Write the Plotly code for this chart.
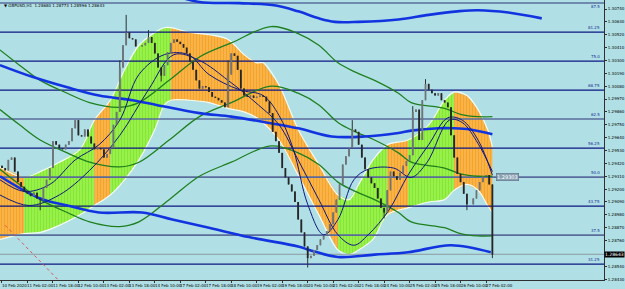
import plotly.graph_objects as go

BG = "#b0e0e6"

# ---------------- x axis (hourly bars, label every 16 bars) ----------------
tick_bars = [0, 16, 32, 48, 64, 80, 96, 112, 128, 144, 160, 176, 192, 208, 224, 240, 256, 272, 288, 304]
tick_text = ["10 Feb 2020", "11 Feb 02:00", "11 Feb 18:00", "12 Feb 10:00", "13 Feb 02:00",
             "13 Feb 18:00", "14 Feb 10:00", "17 Feb 02:00", "17 Feb 18:00", "18 Feb 10:00",
             "19 Feb 02:00", "19 Feb 18:00", "20 Feb 10:00", "21 Feb 02:00", "21 Feb 18:00",
             "24 Feb 10:00", "25 Feb 02:00", "25 Feb 18:00", "26 Feb 10:00", "27 Feb 02:00"]

# ---------------- price (one candle per 2 hourly bars) ----------------
close = [1.2938, 1.2936, 1.2945, 1.2947, 1.2935, 1.2926, 1.2922, 1.2918, 1.2916, 1.2914,
         1.2917, 1.2912, 1.2911, 1.2921, 1.2928, 1.2938, 1.2961, 1.2958, 1.2955, 1.2954,
         1.2958, 1.2961, 1.2972, 1.2979, 1.2966, 1.2965, 1.2971, 1.2965, 1.2959, 1.2954,
         1.2955, 1.2954, 1.2947, 1.2950, 1.2955, 1.2975, 1.2986, 1.3024, 1.3043, 1.3054,
         1.3049, 1.3048, 1.3042, 1.3042, 1.3043, 1.3045, 1.3050, 1.3045, 1.3036, 1.3024,
         1.3017, 1.3026, 1.3037, 1.3045, 1.3048, 1.3046, 1.3044, 1.3041, 1.3036, 1.3029,
         1.3022, 1.3013, 1.3006, 1.3008, 1.3007, 1.3003, 1.2999, 1.2998, 1.2996, 1.2994,
         1.2990, 1.3018, 1.3036, 1.3034, 1.3022, 1.3006, 1.3000, 1.2999, 1.3000, 1.2998,
         1.2999, 1.3000, 1.2999, 1.2995, 1.2985, 1.2969, 1.2961, 1.2951, 1.2938, 1.2930,
         1.2924, 1.2918, 1.2909, 1.2894, 1.2883, 1.2871, 1.2861, 1.2863, 1.2868, 1.2872,
         1.2877, 1.2880, 1.2884, 1.2890, 1.2900, 1.2911, 1.2924, 1.2941, 1.2948, 1.2955,
         1.2971, 1.2969, 1.2958, 1.2947, 1.2937, 1.2930, 1.2925, 1.2921, 1.2912, 1.2904,
         1.2900, 1.2919, 1.2935, 1.2931, 1.2928, 1.2934, 1.2940, 1.2944, 1.2949, 1.2986,
         1.2988, 1.2962, 1.2996, 1.3010, 1.3005, 1.3002, 1.3000, 1.3002, 1.2996, 1.2994,
         1.2990, 1.2966, 1.2947, 1.2933, 1.2926, 1.2916, 1.2907, 1.2907, 1.2912, 1.2919,
         1.2926, 1.2931, 1.2932, 1.2924, 1.2864]
first_open = 1.2940
spike_high = {37: 1.3030, 39: 1.3069, 46: 1.3056, 71: 1.3030, 110: 1.2979, 129: 1.2991, 133: 1.3014}
spike_low = {12: 1.2902, 50: 1.3012, 96: 1.2853, 120: 1.2895, 146: 1.2902, 154: 1.2861}

# ---------------- horizontal levels ----------------
fib_pct = ["87.5", "81.25", "75.0", "68.75", "62.5", "56.25", "50.0", "43.75", "37.5", "31.25"]
fib_price = [1.30791, 1.30543, 1.30295, 1.30047, 1.29799, 1.29551, 1.29303, 1.29055, 1.28807, 1.28559]
fib_dark = [False, True, True, True, False, True, False, True, False, True]
bid_price = 1.28643
box_price = 1.29303

ytick_vals = [1.30740, 1.30630, 1.30520, 1.30410, 1.30300, 1.30190, 1.30080, 1.29970, 1.29860,
              1.29750, 1.29640, 1.29530, 1.29420, 1.29310, 1.29200, 1.29090, 1.28980, 1.28870,
              1.28760, 1.28540, 1.28430]

# ---------------- indicator lines (bar index, price) ----------------
blue_up_x = [105, 124, 149, 172, 186, 199, 209, 224, 249, 268, 286, 299, 318, 339]
blue_up_y = [1.3087, 1.3080, 1.3079, 1.3077, 1.3072, 1.3066, 1.3063, 1.3063, 1.3065, 1.3069,
             1.3072, 1.3073, 1.3071, 1.3066]
blue_mid_x = [-1.3, 19, 41, 61, 82, 97, 124, 144, 166, 186, 207, 228, 249, 257, 274, 284, 294, 308]
blue_mid_y = [1.3026, 1.3016, 1.3007, 1.3000, 1.2996, 1.2992, 1.2985, 1.2982, 1.2977, 1.2972,
              1.2965, 1.2965, 1.2968, 1.2970, 1.2972, 1.2972, 1.2971, 1.2967]
blue_lo_x = [-1.3, 24, 41, 61, 88, 107, 130, 155, 186, 193, 211, 234, 255, 282, 307]
blue_lo_y = [1.2931, 1.2912, 1.2906, 1.2900, 1.2900, 1.2894, 1.2887, 1.2879, 1.2871, 1.2868,
             1.2862, 1.2864, 1.2866, 1.2872, 1.2866]

green_x = [-1.3, 11, 24, 41, 55, 74, 86, 105, 124, 144, 169, 186, 199, 211, 222, 234, 249, 257,
           278, 288, 299, 308]
green_a = [1.3039, 1.3026, 1.3013, 1.3002, 1.2994, 1.2990, 1.2994, 1.3013, 1.3033, 1.3045, 1.3059,
           1.3053, 1.3043, 1.3028, 1.3020, 1.3013, 1.3002, 1.2994, 1.2989, 1.2984, 1.2982, 1.2982]
green_b = [1.2988, 1.2975, 1.2962, 1.2951, 1.2943, 1.2939, 1.2943, 1.2962, 1.2982, 1.2994, 1.3008,
           1.3002, 1.2992, 1.2977, 1.2969, 1.2962, 1.2951, 1.2943, 1.2938, 1.2933, 1.2931, 1.2931]
green_c = [1.2937, 1.2924, 1.2911, 1.2900, 1.2892, 1.2888, 1.2892, 1.2911, 1.2931, 1.2943, 1.2957,
           1.2951, 1.2941, 1.2926, 1.2918, 1.2911, 1.2900, 1.2892, 1.2887, 1.2882, 1.2880, 1.2880]

navy1_x = [-1.3, 17, 36, 55, 74, 92, 108, 124, 142, 161, 174, 186, 199, 211, 221, 230, 243, 255,
           268, 280, 289, 299, 308]
navy1_y = [1.2915, 1.2906, 1.2915, 1.2936, 1.2966, 1.3005, 1.3035, 1.3030, 1.3013, 1.2992, 1.2975,
           1.2945, 1.2911, 1.2881, 1.2872, 1.2881, 1.2902, 1.2932, 1.2958, 1.2981, 1.2979, 1.2962,
           1.2932]
navy2_x = [-1.3, 14, 30, 46, 61, 74, 86, 102, 117, 130, 149, 164, 174, 183, 192, 202, 211, 221,
           230, 246, 257, 267, 281, 289, 299, 308]
navy2_y = [1.2928, 1.2918, 1.2924, 1.2945, 1.2958, 1.2979, 1.3018, 1.3035, 1.3035, 1.3018, 1.3005,
           1.3000, 1.2983, 1.2954, 1.2907, 1.2881, 1.2894, 1.2928, 1.2937, 1.2938, 1.2930, 1.2943,
           1.2979, 1.2977, 1.2959, 1.2935]

red_x = [2, 37]
red_y = [1.2889, 1.2840]

# ---------------- coloured band (bar index, top, bottom) ----------------
band_x = [-1.3, 14, 24, 36, 49, 58, 68, 77, 86, 96, 102, 106, 118, 130, 142, 152, 160, 164, 174,
          186, 199, 211, 218, 224, 233, 242, 255, 268, 278, 284, 292, 299, 305, 308]
band_top = [1.2939, 1.2930, 1.2935, 1.2943, 1.2954, 1.2979, 1.2996, 1.3022, 1.3043, 1.3054, 1.3058,
            1.3058, 1.3054, 1.3052, 1.3048, 1.3035, 1.3028, 1.3028, 1.3009, 1.2971, 1.2941, 1.2915,
            1.2911, 1.2924, 1.2945, 1.2958, 1.2962, 1.2975, 1.2996, 1.3003, 1.3000, 1.2988, 1.2971,
            1.2956]
band_bot = [1.2877, 1.2882, 1.2883, 1.2889, 1.2898, 1.2906, 1.2915, 1.2928, 1.2945, 1.2971, 1.2992,
            1.2996, 1.2996, 1.2994, 1.2989, 1.2986, 1.2981, 1.2977, 1.2962, 1.2932, 1.2898, 1.2868,
            1.2864, 1.2868, 1.2877, 1.2898, 1.2904, 1.2909, 1.2911, 1.2919, 1.2924, 1.2919, 1.2906,
            1.2900]
band_segments = [(0, 1, "orange"), (1, 5, "green"), (5, 6, "orange"), (6, 11, "green"),
                 (11, 21, "orange"), (21, 25, "green"), (25, 26, "orange"), (26, 29, "green"),
                 (29, 33, "orange")]
band_style = {"orange": ("#f9b347", "#ef9412"), "green": ("#98f04a", "#72dc20")}

fig = go.Figure()

# band polygons
for s, e, col in band_segments:
    xs = band_x[s:e + 1] + band_x[s:e + 1][::-1]
    ys = band_top[s:e + 1] + band_bot[s:e + 1][::-1]
    bg, fg = band_style[col]
    fig.add_trace(go.Scatter(x=xs, y=ys, fill="toself", mode="none", fillcolor=bg,
                             fillpattern=dict(shape="|", fgcolor=fg, bgcolor=bg, size=3, solidity=0.35),
                             hoverinfo="skip", showlegend=False))
for edge in (band_top, band_bot):
    fig.add_trace(go.Scatter(x=band_x, y=edge, mode="lines", line=dict(color="#f4fbf4", width=1.2, shape="spline"),
                             hoverinfo="skip", showlegend=False))

# fib levels & bid line
for p, dark in zip(fib_price, fib_dark):
    fig.add_trace(go.Scatter(x=[-2, 380], y=[p, p], mode="lines",
                             line=dict(color="#0c1680" if dark else "#5a6c9c", width=1.3 if dark else 1.6),
                             hoverinfo="skip", showlegend=False))
fig.add_trace(go.Scatter(x=[-2, 380], y=[bid_price, bid_price], mode="lines",
                         line=dict(color="#8a9aa0", width=1), hoverinfo="skip", showlegend=False))

# indicator lines
for ys in (green_a, green_b, green_c):
    fig.add_trace(go.Scatter(x=green_x, y=ys, mode="lines", line=dict(color="#1f7f1f", width=1.3, shape="spline"),
                             hoverinfo="skip", showlegend=False))
for xs, ys in ((blue_up_x, blue_up_y), (blue_mid_x, blue_mid_y), (blue_lo_x, blue_lo_y)):
    fig.add_trace(go.Scatter(x=xs, y=ys, mode="lines", line=dict(color="#1233e0", width=2.6, shape="spline"),
                             hoverinfo="skip", showlegend=False))
for xs, ys in ((navy1_x, navy1_y), (navy2_x, navy2_y)):
    fig.add_trace(go.Scatter(x=xs, y=ys, mode="lines", line=dict(color="#101880", width=1, shape="spline"),
                             hoverinfo="skip", showlegend=False))

# candles drawn as wick + body segments
bars = list(range(0, 2 * len(close), 2))
opens = [first_open] + close[:-1]
wx, wy, ux, uy, dx, dy = [], [], [], [], [], []
for k, (b, o, c) in enumerate(zip(bars, opens, close)):
    hi = spike_high.get(k, max(o, c))
    lo = spike_low.get(k, min(o, c))
    wx += [b, b, None]
    wy += [lo, hi, None]
    if c >= o:
        ux += [b, b, None]
        uy += [o, c, None]
    else:
        dx += [b, b, None]
        dy += [o, c, None]
fig.add_trace(go.Scatter(x=wx, y=wy, mode="lines", line=dict(color="#303030", width=1),
                         hoverinfo="skip", showlegend=False))
fig.add_trace(go.Scatter(x=ux, y=uy, mode="lines", line=dict(color="#6f7478", width=1.8),
                         hoverinfo="skip", showlegend=False))
fig.add_trace(go.Scatter(x=dx, y=dy, mode="lines", line=dict(color="#262626", width=1.8),
                         hoverinfo="skip", showlegend=False))

fig.add_trace(go.Scatter(x=red_x, y=red_y, mode="lines", line=dict(color="#e05050", width=1, dash="dot"),
                         hoverinfo="skip", showlegend=False))

# annotations
ann = []
for p, t in zip(fib_price, fib_pct):
    top = p == fib_price[0]
    ann.append(dict(x=377, y=p, xref="x", yref="y", text=t, showarrow=False, xanchor="right",
                    yanchor="top" if top else "bottom", yshift=1 if top else 0,
                    font=dict(size=4, color="#1a2a90", family="DejaVu Sans")))
for b, t in zip(tick_bars, tick_text):
    ann.append(dict(x=b, y=0, xref="x", yref="paper", text=t, showarrow=False, xanchor="left",
                    yanchor="top", xshift=-2, yshift=-1, font=dict(size=4, color="#000000", family="DejaVu Sans")))
ann.append(dict(x=1, y=bid_price, xref="paper", yref="y", text="1.28643", showarrow=False, xanchor="left",
                bgcolor="#000000", borderpad=0, font=dict(size=4.5, color="#ffffff", family="DejaVu Sans")))
ann.append(dict(x=310, y=box_price, xref="x", yref="y", text="1.29303", showarrow=False, xanchor="left",
                bgcolor="#8aa2b2", bordercolor="#50607a", borderwidth=0.5, borderpad=0.5,
                font=dict(size=5, color="#ffffff", family="DejaVu Sans")))
ann.append(dict(x=0.004, y=1, xref="paper", yref="paper", text="\u25bc GBPUSD,H1  1.28680 1.28773 1.28596 1.28643",
                showarrow=False, xanchor="left", yanchor="top", yshift=-1,
                font=dict(size=4, color="#000000", family="DejaVu Sans")))

fig.update_layout(
    width=625, height=289, margin=dict(l=0, r=18, t=0, b=9),
    paper_bgcolor=BG, plot_bgcolor=BG, showlegend=False, annotations=ann,
    xaxis=dict(range=[-1.25, 378.1], showgrid=False, zeroline=False,
               tickvals=tick_bars, ticktext=[""] * len(tick_bars), ticks="outside", ticklen=2,
               tickcolor="#303030", showline=True, linecolor="#303030", linewidth=1),
    yaxis=dict(range=[1.28423, 1.30817], side="right", showgrid=False, zeroline=False,
               tickvals=ytick_vals, ticktext=["%.5f" % v for v in ytick_vals], ticks="outside",
               ticklen=2, tickcolor="#303030", showline=True, linecolor="#303030", linewidth=1,
               tickfont=dict(size=4, color="#000000", family="DejaVu Sans")),
)

fig.write_html("out.html")
